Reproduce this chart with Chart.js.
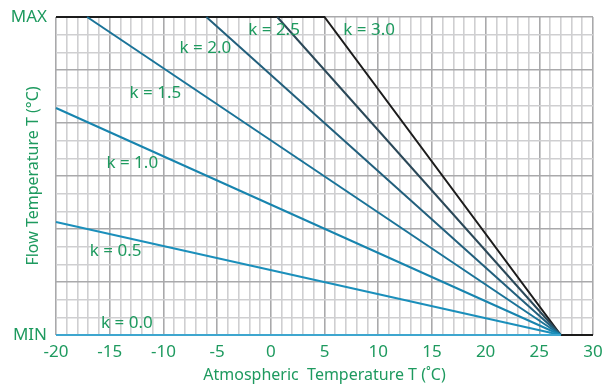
<!DOCTYPE html>
<html>
<head>
<meta charset="utf-8">
<script src="https://cdn.jsdelivr.net/npm/chart.js@4"></script>
<style>
  html, body { margin: 0; padding: 0; background: #fff; }
  #chart { display: block; }
</style>
</head>
<body>
<canvas id="chart" width="606" height="387"></canvas>
<script>
// heating curves, y runs from MIN (0) to MAX (18)
const curveNames = ['k = 0.0', 'k = 0.5', 'k = 1.0', 'k = 1.5', 'k = 2.0', 'k = 2.5', 'k = 3.0'];
const k00 = [{x: -20, y: 0}, {x: 27, y: 0}];
const k05 = [{x: -20, y: 6.4}, {x: 27, y: 0}];
const k10 = [{x: -20, y: 12.85}, {x: 27, y: 0}];
const k15 = [{x: -17.1, y: 18}, {x: 27, y: 0}];
const k20 = [{x: -6, y: 18}, {x: 27, y: 0}];
const k25 = [{x: 0.6, y: 18}, {x: 27, y: 0}];
const k30 = [{x: -20, y: 18}, {x: 5, y: 18}, {x: 27, y: 0}, {x: 30, y: 0}];
const xTicks = [-20, -15, -10, -5, 0, 5, 10, 15, 20, 25, 30];
const yTickLabels = {0: 'MIN', 18: 'MAX'};
// where each "k = ..." label sits (data coords, left edge / middle)
const labelAt = [
  {x: -15.8, y: 0.65}, {x: -16.85, y: 4.75}, {x: -15.3, y: 9.7},
  {x: -13.15, y: 13.7}, {x: -8.5, y: 16.25}, {x: -2.1, y: 17.25}, {x: 6.75, y: 17.25}
];

const green = '#1e9a5f';
const font = "'Noto Sans', sans-serif";

const curveLabels = {
  id: 'curveLabels',
  afterDatasetsDraw(c) {
    const ctx = c.ctx;
    const xs = c.scales.x, ys = c.scales.y;
    ctx.save();
    ctx.fillStyle = green;
    ctx.font = '17px ' + font;
    ctx.textAlign = 'left';
    ctx.textBaseline = 'middle';
    curveNames.forEach((name, i) => {
      ctx.fillText(name, xs.getPixelForValue(labelAt[i].x), ys.getPixelForValue(labelAt[i].y));
    });
    ctx.restore();
  }
};

function ds(data, color, label) {
  return {
    label, data, borderColor: color, borderWidth: 2,
    pointRadius: 0, fill: false, tension: 0, clip: 4
  };
}

const ctx = document.getElementById('chart').getContext('2d');
new Chart(ctx, {
  type: 'line',
  data: {
    datasets: [
      ds(k00, '#3ea6cf', curveNames[0]),
      ds(k05, '#1b8fbb', curveNames[1]),
      ds(k10, '#1784ae', curveNames[2]),
      ds(k15, '#1a7398', curveNames[3]),
      ds(k20, '#225f7c', curveNames[4]),
      ds(k25, '#2b4858', curveNames[5]),
      ds(k30, '#1c1c1c', curveNames[6])
    ]
  },
  options: {
    responsive: false,
    animation: false,
    layout: { padding: { top: 17, right: 13, left: 0, bottom: 0 } },
    plugins: { legend: { display: false }, tooltip: { enabled: false } },
    scales: {
      x: {
        type: 'linear', min: -20, max: 30,
        afterBuildTicks: ax => { ax.ticks = []; for (let v = -20; v <= 30; v++) ax.ticks.push({value: v}); },
        ticks: {
          autoSkip: false, maxRotation: 0, color: green, padding: 7,
          font: { family: font, size: 17 },
          callback: v => xTicks.includes(v) ? String(v) : ''
        },
        grid: {
          color: c => (c.tick && c.tick.value % 5 === 0) ? '#a9a9ab' : '#cfcfd1',
          lineWidth: 1.6, drawTicks: false
        },
        border: { display: false },
        title: {
          display: true, text: 'Atmospheric  Temperature T (˚C)', color: green,
          font: { family: font, size: 16 }, padding: { top: 0, bottom: 2 }
        },
        afterFit: ax => { ax.height = 52; ax.paddingLeft = 0; ax.paddingRight = 0; }
      },
      y: {
        type: 'linear', min: 0, max: 18,
        afterBuildTicks: ax => { ax.ticks = []; for (let v = 0; v <= 18; v++) ax.ticks.push({value: v}); },
        ticks: {
          autoSkip: false, color: green, padding: 9,
          font: { family: font, size: 17 },
          callback: v => yTickLabels[v] || ''
        },
        grid: {
          color: c => (c.tick && c.tick.value % 3 === 0) ? '#a9a9ab' : '#cfcfd1',
          lineWidth: 1.6, drawTicks: false
        },
        border: { display: false },
        title: {
          display: true, text: 'Flow Temperature T (°C)', color: green,
          font: { family: font, size: 16 }, padding: { top: 24, bottom: 0 }
        },
        afterFit: ax => { ax.width = 56; ax.paddingTop = 0; ax.paddingBottom = 0; }
      }
    }
  },
  plugins: [curveLabels]
});
</script>
</body>
</html>
